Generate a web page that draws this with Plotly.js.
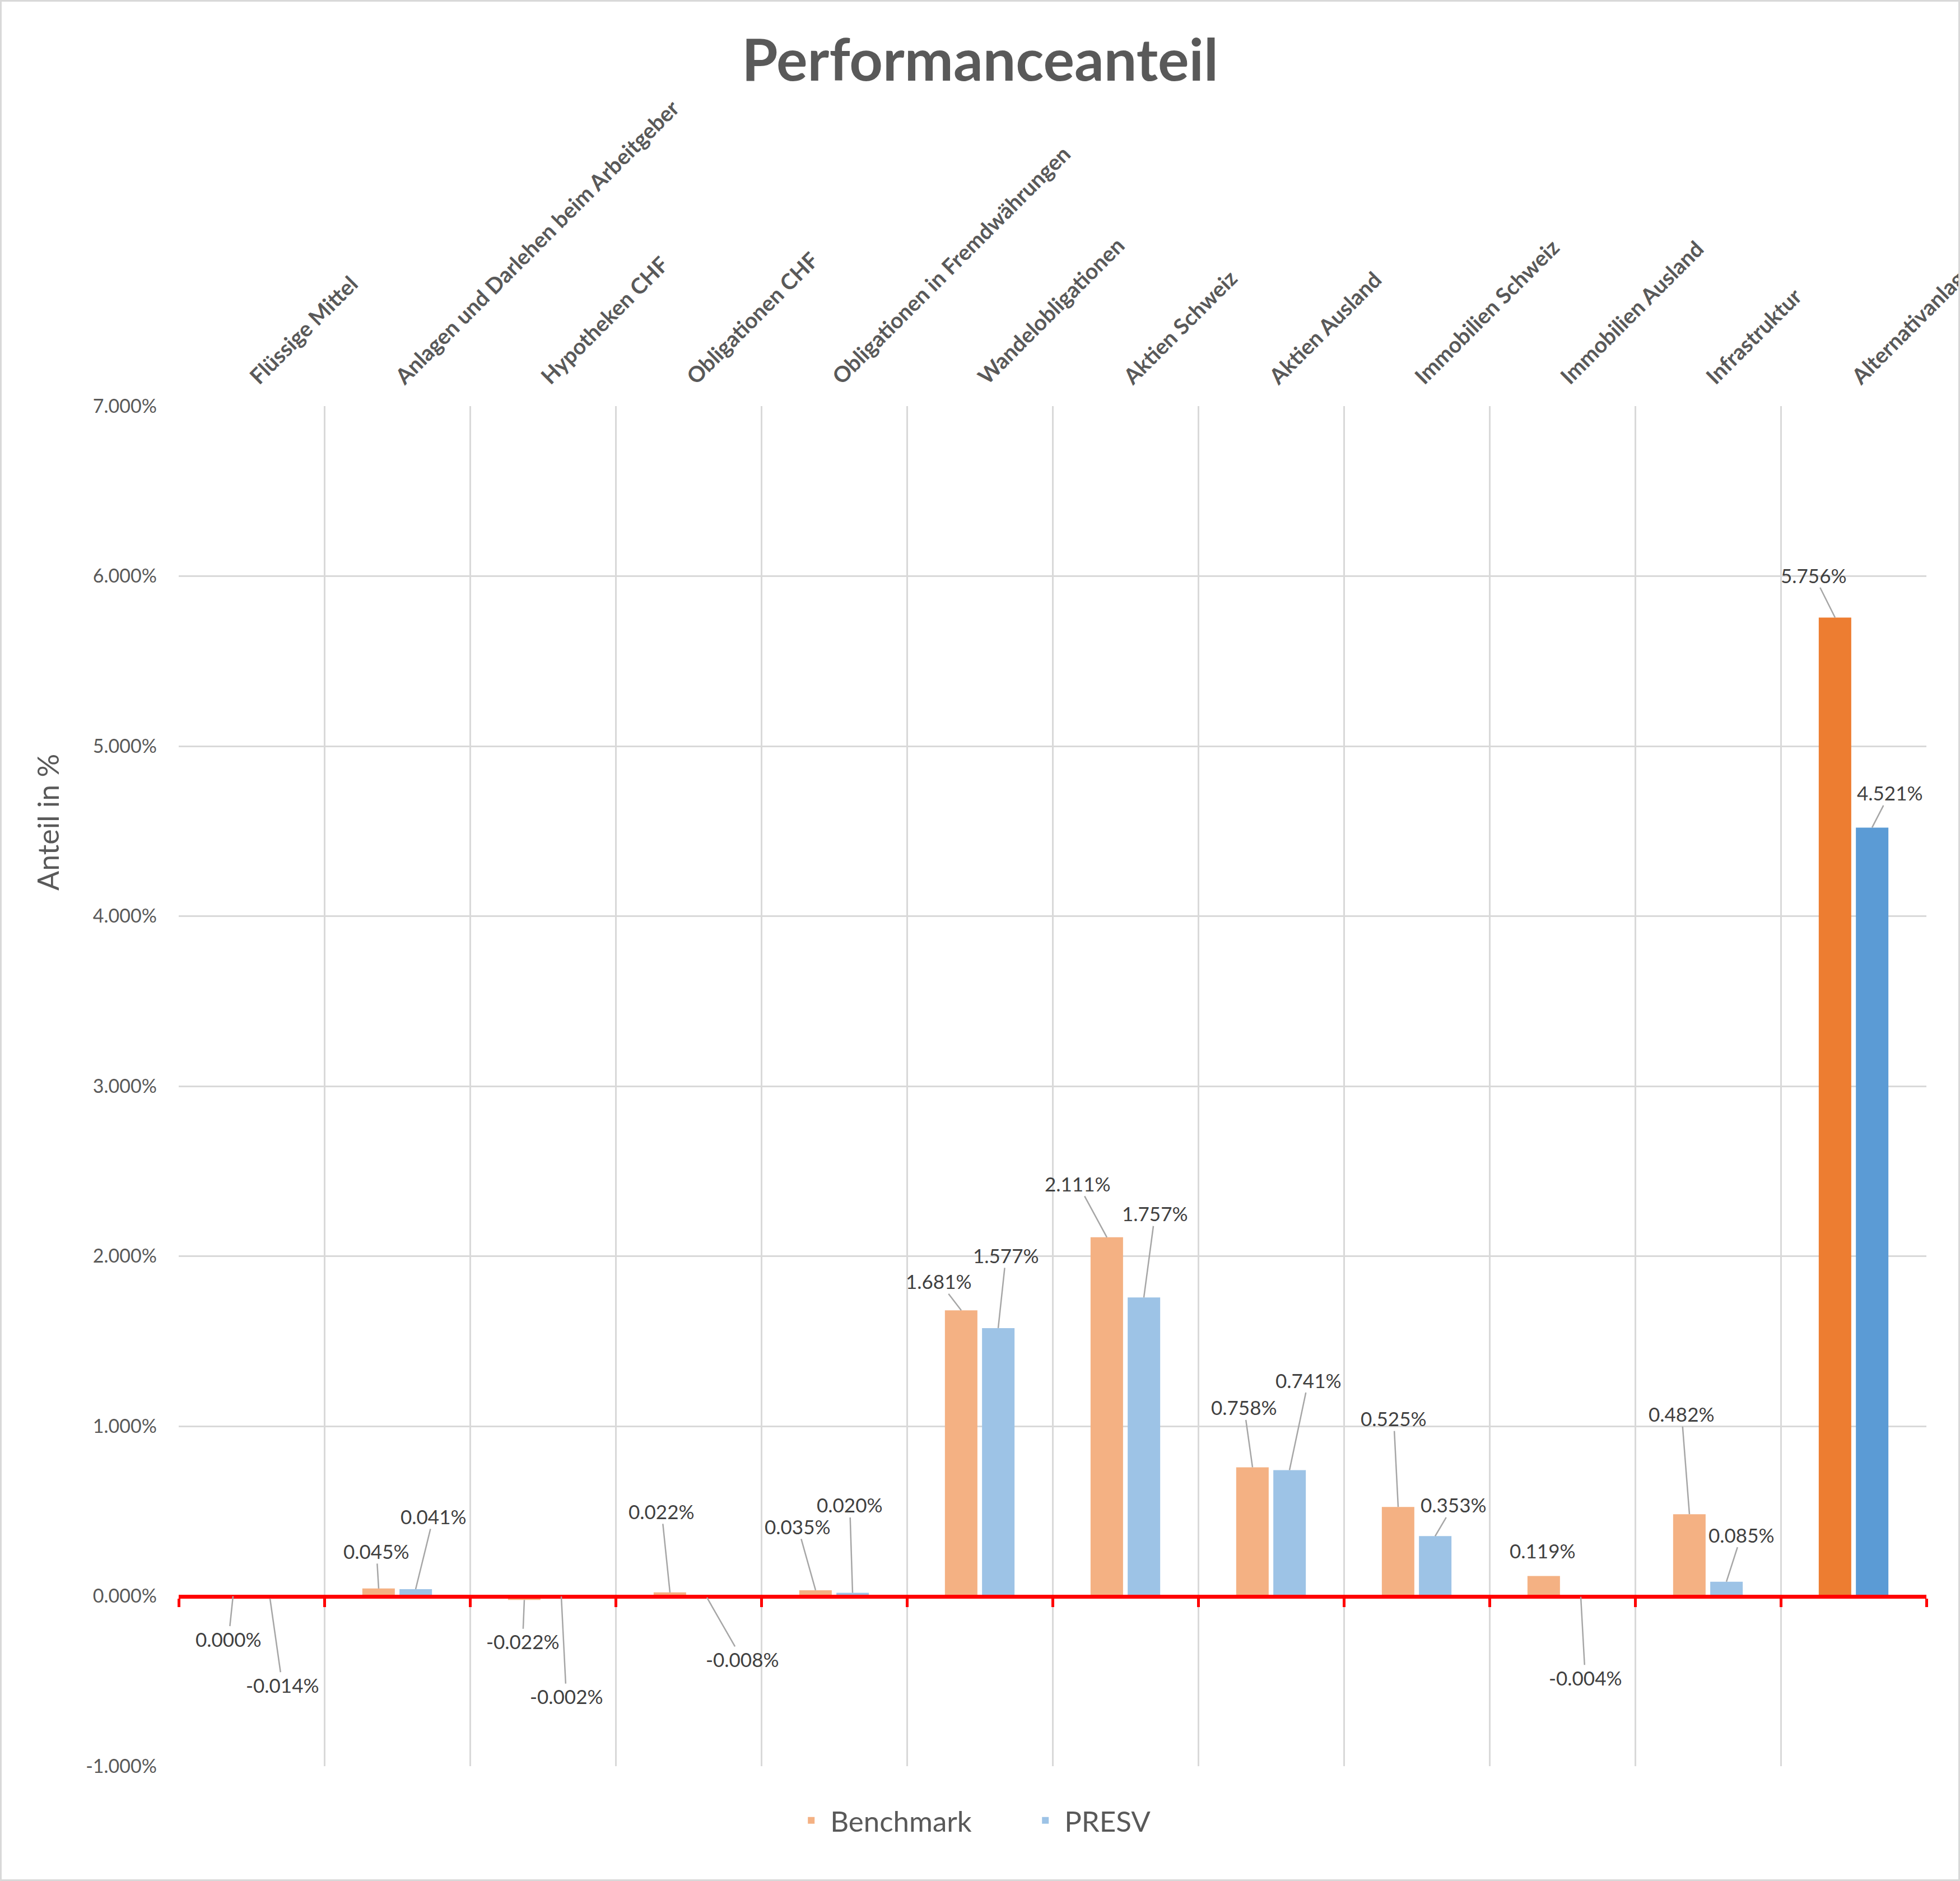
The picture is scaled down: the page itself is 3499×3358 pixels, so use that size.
<!DOCTYPE html>
<html>
<head>
<meta charset="utf-8">
<script src="https://cdn.plot.ly/plotly-3.0.1.min.js"></script>
<style>
  html, body { margin: 0; padding: 0; background: #fff; overflow: hidden; }
  #chart { width: 3499px; height: 3358px; box-sizing: border-box; border: 3px solid #d9d9d9; }
</style>
</head>
<body>
<div id="chart"></div>
<script>
  const categories = [
    'Flüssige Mittel',
    'Anlagen und Darlehen beim Arbeitgeber',
    'Hypotheken CHF',
    'Obligationen CHF',
    'Obligationen in Fremdwährungen',
    'Wandelobligationen',
    'Aktien Schweiz',
    'Aktien Ausland',
    'Immobilien Schweiz',
    'Immobilien Ausland',
    'Infrastruktur',
    'Alternativanlagen'
  ];

  // Anteil in %
  const benchmark = [0.000, 0.045, -0.022, 0.022, 0.035, 1.681, 2.111, 0.758, 0.525, 0.119, 0.482, 5.756];
  const presv = [-0.014, 0.041, -0.002, -0.008, 0.020, 1.577, 1.757, 0.741, 0.353, -0.004, 0.085, 4.521];

  const yTicks = [-1, 0, 1, 2, 3, 4, 5, 6, 7];
  const yTickText = yTicks.map(v => v.toFixed(3) + '%');

  // where Excel had moved the data labels (pixel offset from the bar top)
  const benchLabelOffsets = [[-8, 76], [-4, -67], [-3, 74], [-15, -145], [-32, -114], [-40, -52],
    [-52, -96], [-15, -107], [-8, -158], [-2, -45], [-14, -179], [-38, -76]];
  const presvLabelOffsets = [[22, 154], [32, -130], [9, 178], [63, 110], [-5, -157], [14, -130],
    [20, -150], [34, -161], [33, -56], [8, 144], [27, -84], [32, -62]];

  const LIGHT_ORANGE = '#F4B183', DARK_ORANGE = '#ED7D31';
  const LIGHT_BLUE = '#9DC3E6', DARK_BLUE = '#5B9BD5';
  const TEXT = '#595959';
  const FONT = 'Lato, "Open Sans", sans-serif';
  const BAR_SHIFT = 33;

  const last = categories.length - 1;
  const yRange = [yTicks[0], yTicks[yTicks.length - 1]];
  const zeroPos = (0 - yRange[0]) / (yRange[1] - yRange[0]);

  const traces = [
    {
      type: 'bar',
      name: 'Benchmark',
      x: categories,
      y: benchmark,
      marker: { color: categories.map((c, i) => i === last ? DARK_ORANGE : LIGHT_ORANGE) },
      hoverinfo: 'skip'
    },
    {
      type: 'bar',
      name: 'PRESV',
      x: categories,
      y: presv,
      marker: { color: categories.map((c, i) => i === last ? DARK_BLUE : LIGHT_BLUE) },
      hoverinfo: 'skip'
    },
    {
      // carries the category labels along the top
      type: 'scatter',
      mode: 'markers',
      x: categories.map((c, i) => i),
      y: categories.map(() => null),
      xaxis: 'x2',
      showlegend: false,
      hoverinfo: 'skip'
    }
  ];

  function labels(values, offsets, shift) {
    return values.map((v, i) => ({
      x: categories[i],
      y: v,
      xref: 'x',
      yref: 'y',
      xshift: shift,
      text: v.toFixed(3) + '%',
      showarrow: true,
      arrowhead: 0,
      arrowwidth: 2.5,
      arrowcolor: Math.abs(offsets[i][1]) < 50 && Math.abs(offsets[i][0]) < 10 ? 'rgba(0,0,0,0)' : '#a6a6a6',
      standoff: 0,
      ax: offsets[i][0],
      ay: offsets[i][1],
      font: { family: FONT, size: 35, color: '#404040' }
    }));
  }

  const layout = {
    width: 3493,
    height: 3352,
    paper_bgcolor: '#ffffff',
    plot_bgcolor: '#ffffff',
    font: { family: FONT, color: TEXT },
    margin: { l: 316, r: 57, t: 722, b: 202 },
    title: {
      text: '<b>Performanceanteil</b>',
      font: { family: FONT, size: 104, color: TEXT },
      x: 0.5, xanchor: 'center',
      y: 1 - 105 / 3358, yref: 'container', yanchor: 'middle'
    },
    barmode: 'group',
    bargap: 0.49,
    bargroupgap: 0.125,
    xaxis: {
      type: 'category',
      anchor: 'free',
      position: zeroPos,
      showticklabels: false,
      showline: true,
      linecolor: '#ff0000',
      linewidth: 7,
      ticks: 'outside',
      tickson: 'boundaries',
      ticklen: 15,
      tickwidth: 5,
      tickcolor: '#ff0000',
      showgrid: true,
      gridcolor: '#d9d9d9',
      gridwidth: 3,
      zeroline: false,
      fixedrange: true
    },
    xaxis2: {
      overlaying: 'x',
      side: 'top',
      anchor: 'y',
      type: 'linear',
      range: [-0.5, categories.length - 0.5],
      tickmode: 'array',
      tickvals: categories.map((c, i) => i),
      ticktext: categories.map(c => '<b>' + c + '</b>'),
      tickangle: -45,
      tickfont: { family: FONT, size: 39, color: TEXT },
      ticks: '',
      ticklabelstandoff: 22,
      ticklabeloverflow: 'allow',
      showgrid: false,
      zeroline: false,
      showline: false
    },
    yaxis: {
      range: yRange,
      tickmode: 'array',
      tickvals: yTicks,
      ticktext: yTickText,
      tickfont: { family: FONT, size: 34, color: TEXT },
      ticklabelstandoff: 38,
      showgrid: true,
      gridcolor: '#d9d9d9',
      gridwidth: 3,
      zeroline: false,
      showline: false
    },
    showlegend: true,
    legend: {
      orientation: 'h',
      x: 0.485, xanchor: 'center',
      y: -0.04, yanchor: 'middle',
      font: { family: FONT, size: 51, color: TEXT },
      itemwidth: 58,
      entrywidth: 345,
      tracegroupgap: 0
    },
    annotations: labels(benchmark, benchLabelOffsets, -BAR_SHIFT)
      .concat(labels(presv, presvLabelOffsets, BAR_SHIFT))
      .concat([{
        // y-axis title, placed where Excel put it
        text: 'Anteil in %',
        textangle: -90,
        xref: 'paper', yref: 'paper',
        x: -0.075, y: 0.694,
        xanchor: 'center', yanchor: 'middle',
        showarrow: false,
        font: { family: FONT, size: 52, color: TEXT }
      }])
  };

  Plotly.newPlot('chart', traces, layout, { displayModeBar: false, staticPlot: true });
</script>
</body>
</html>
